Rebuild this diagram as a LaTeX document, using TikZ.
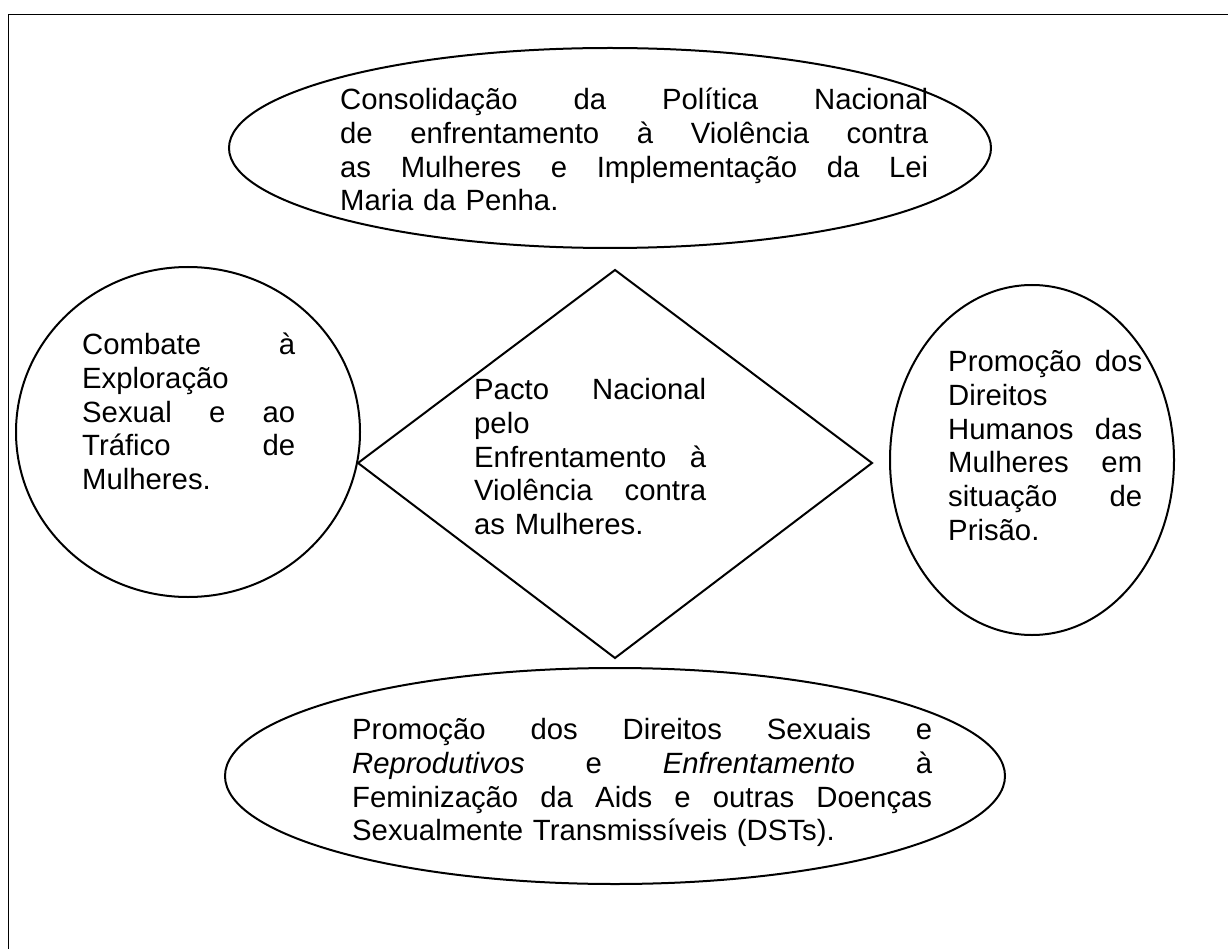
\documentclass[tikz,border=0pt]{standalone}
\usepackage{fontspec}
\setmainfont{Liberation Sans}
\usetikzlibrary{shapes.geometric}
\hyphenpenalty=10000
\exhyphenpenalty=10000
\tikzset{
  shapeline/.style={draw=black, line width=2pt},
  ovalbox/.style={shapeline, ellipse, inner sep=0pt},
  txt/.style={anchor=north west, inner sep=0pt, align=left,
    font=\fontsize{29.3}{33.7}\selectfont},
}
\begin{document}
\begin{tikzpicture}[x=1pt,y=-1pt]
\useasboundingbox (0,0) rectangle (1228,949);
% frame (only left and top sides visible)
\coordinate (fbl) at (8.5,949);
\coordinate (ftl) at (8.5,14.5);
\coordinate (ftr) at (1228,14.5);
\draw[line width=1.5pt] (fbl) -- (ftl) -- (ftr);

% shapes
\node[ovalbox, minimum width=762pt, minimum height=200pt] (top) at (610,148) {};
\node[ovalbox, minimum width=344pt, minimum height=330pt] (left) at (188,432) {};
\node[ovalbox, minimum width=284pt, minimum height=350pt] (right) at (1032,460) {};
\node[ovalbox, minimum width=780pt, minimum height=216pt] (bottom) at (615,776) {};
\coordinate (dt) at (615,270);
\coordinate (dr) at (872,463);
\coordinate (db) at (615,658);
\coordinate (dl) at (358,463);
\draw[shapeline, line join=miter] (dt) -- (dr) -- (db) -- (dl) -- cycle;

% texts
\node[txt, text width=588pt] (ttop) at (340,86) {\strut Consolidação\hfill da\hfill Política\hfill Nacional\\
de\hfill enfrentamento\hfill à\hfill Violência\hfill contra\\
as\hfill Mulheres\hfill e\hfill Implementação\hfill da\hfill Lei\\
Maria da Penha.};

\node[txt, text width=213pt] (tleft) at (82,331) {\strut Combate\hfill à\\
Exploração\\
Sexual\hfill e\hfill ao\\
Tráfico\hfill de\\
Mulheres.};

\node[txt, text width=232pt] (tdia) at (474,376) {\strut Pacto\hfill Nacional\\
pelo\\
Enfrentamento\hfill à\\
Violência\hfill contra\\
as Mulheres.};

\node[txt, text width=194pt] (tright) at (948,348) {\strut Promoção\hfill dos\\
Direitos\\
Humanos\hfill das\\
Mulheres\hfill em\\
situação\hfill de\\
Prisão.};

\node[txt, text width=580pt] (tbottom) at (352,716) {\strut Promoção\hfill dos\hfill Direitos\hfill Sexuais\hfill e\\
\textit{Reprodutivos}\hfill e\hfill \textit{Enfrentamento}\hfill à\\
Feminização\hfill da\hfill Aids\hfill e\hfill outras\hfill Doenças\\
Sexualmente Transmissíveis (DSTs).};
\end{tikzpicture}
\end{document}
